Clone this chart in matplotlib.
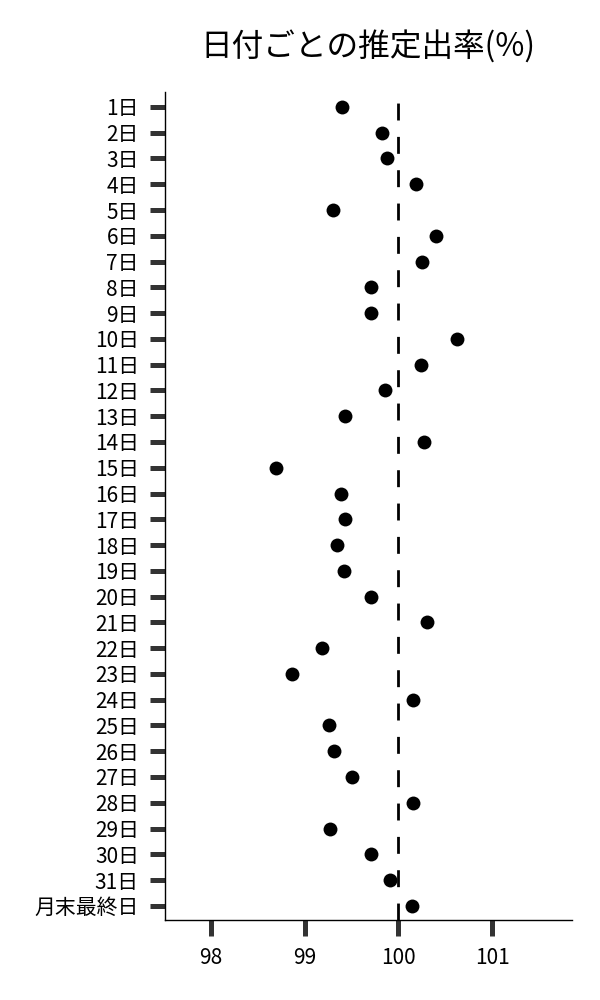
import matplotlib
matplotlib.use("Agg")
import matplotlib.pyplot as plt

plt.rcParams['font.family'] = ['Noto Sans CJK JP', 'DejaVu Sans']

# 日付ラベルと推定出率
days = [f"{i}日" for i in range(1, 32)] + ["月末最終日"]
rates = [99.40, 99.83, 99.88, 100.19, 99.30, 100.40, 100.25, 99.71, 99.71, 100.63,
         100.24, 99.86, 99.43, 100.27, 98.69, 99.39, 99.43, 99.34, 99.42, 99.71,
         100.31, 99.19, 98.86, 100.16, 99.26, 99.31, 99.51, 100.16, 99.27, 99.71,
         99.91, 100.14]
x_ticks = [98, 99, 100, 101]
ref_value = 100

fig = plt.figure(figsize=(6, 10), dpi=100)
ax = fig.add_axes([0.275, 0.08, 0.678, 0.828])

pos = list(range(len(days)))
ax.scatter(rates, pos, s=100, color='black', zorder=3, linewidths=0)
# 100%の基準線
ax.axvline(ref_value, color='black', lw=2, linestyle=(0, (6.1, 5.9)), zorder=2)

ax.set_yticks(pos)
ax.set_yticklabels(days)
ax.set_xticks(x_ticks)
ax.set_xlim(97.51, 101.85)
ax.set_ylim(31.55, -0.58)

for s in ['top', 'right']:
    ax.spines[s].set_visible(False)
for s in ['left', 'bottom']:
    ax.spines[s].set_linewidth(1.0)

ax.tick_params(axis='y', length=10.8, width=3.6, color='#333333', labelsize=15, pad=8)
ax.tick_params(axis='x', length=11.5, width=3.6, color='#333333', labelsize=15, pad=8)

ax.set_title("日付ごとの推定出率(%)", fontsize=22.8, pad=26)

fig.savefig("out.png", dpi=100)
